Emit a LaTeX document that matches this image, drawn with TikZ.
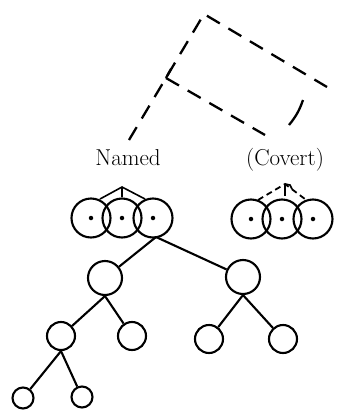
\documentclass[tikz,border=0pt]{standalone}
\begin{document}
\begin{tikzpicture}[x=1pt,y=-1pt,
  ln/.style={line width=2.1pt},
  dsh/.style={line width=2.3pt, dash pattern=on 15pt off 10pt},
  dsmall/.style={line width=1.8pt, dash pattern=on 6pt off 4pt},
  ring/.style={circle, draw, line width=2.1pt, inner sep=0pt},
  big/.style={ring, minimum size=39pt},
  mid/.style={ring, minimum size=34pt},
  sml/.style={ring, minimum size=28pt},
  tiny/.style={ring, minimum size=21pt},
  dot/.style={circle, fill, inner sep=0pt, minimum size=4.5pt},
  lab/.style={font=\fontsize{23}{26}\selectfont, anchor=base, inner sep=0pt}]
\useasboundingbox (0,0) rectangle (343,413);

% labels
\node[lab] (named) at (128,165) {Named};
\node[lab] (covert) at (285,165) {(Covert)};

% dashed triangle structure
\coordinate (apex) at (204,14);
\coordinate (lfoot) at (129,140);
\coordinate (rend) at (327,87);
\coordinate (ibend) at (166,78);
\coordinate (iend) at (265,135);
\draw[dsh] (lfoot) -- (apex) -- (rend);
\draw[dsh] (ibend) -- (iend);
\draw[line width=2.3pt] (ibend) -- ++(5,-9);
\coordinate (a1) at (303,100);
\coordinate (a2) at (289,125);
\draw[line width=2.3pt] (a1) to[bend left=10] (a2);

% left group of circles
\node[big] (c1) at (91,218) {};
\node[big] (c2) at (122,218) {};
\node[big] (c3) at (153,218) {};
\node[dot] at (c1) {};
\node[dot] at (c2) {};
\node[dot] at (c3) {};
\coordinate (ltop) at (122,187);
\draw[line width=1.6pt] (100,199) -- (ltop) -- (145,199);
\draw[line width=1.6pt] (ltop) -- (c2.north);

% right group of circles
\node[big] (d1) at (251,219) {};
\node[big] (d2) at (282,219) {};
\node[big] (d3) at (313,219) {};
\node[dot] at (d1) {};
\node[dot] at (d2) {};
\node[dot] at (d3) {};
\coordinate (rtop) at (285,184);
\draw[dsmall] (258,200) -- (rtop) -- (305,199);
\draw[line width=1.6pt] (rtop) -- (285,196);
\draw[line width=1.6pt] (rtop) -- ++(5,1) -- ++(2,4);

% tree
\coordinate (root) at (156,237);
\node[mid] (L1) at (105,278) {};
\node[mid] (R1) at (243,277) {};
\node[sml] (LL) at (61,336) {};
\node[sml] (LR) at (132,336) {};
\node[sml] (RL) at (209,339) {};
\node[sml] (RR) at (283,339) {};
\node[tiny] (LLL) at (23,398) {};
\node[tiny] (LLR) at (82,397) {};

\draw[ln] (root) -- (L1);
\draw[ln] (root) -- (R1);
\draw[ln] (L1.south) -- (LL);
\draw[ln] (L1.south) -- (LR);
\draw[ln] (R1.south) -- (RL);
\draw[ln] (R1.south) -- (RR);
\draw[ln] (LL.south) -- (LLL);
\draw[ln] (LL.south) -- (LLR);
\end{tikzpicture}
\end{document}
